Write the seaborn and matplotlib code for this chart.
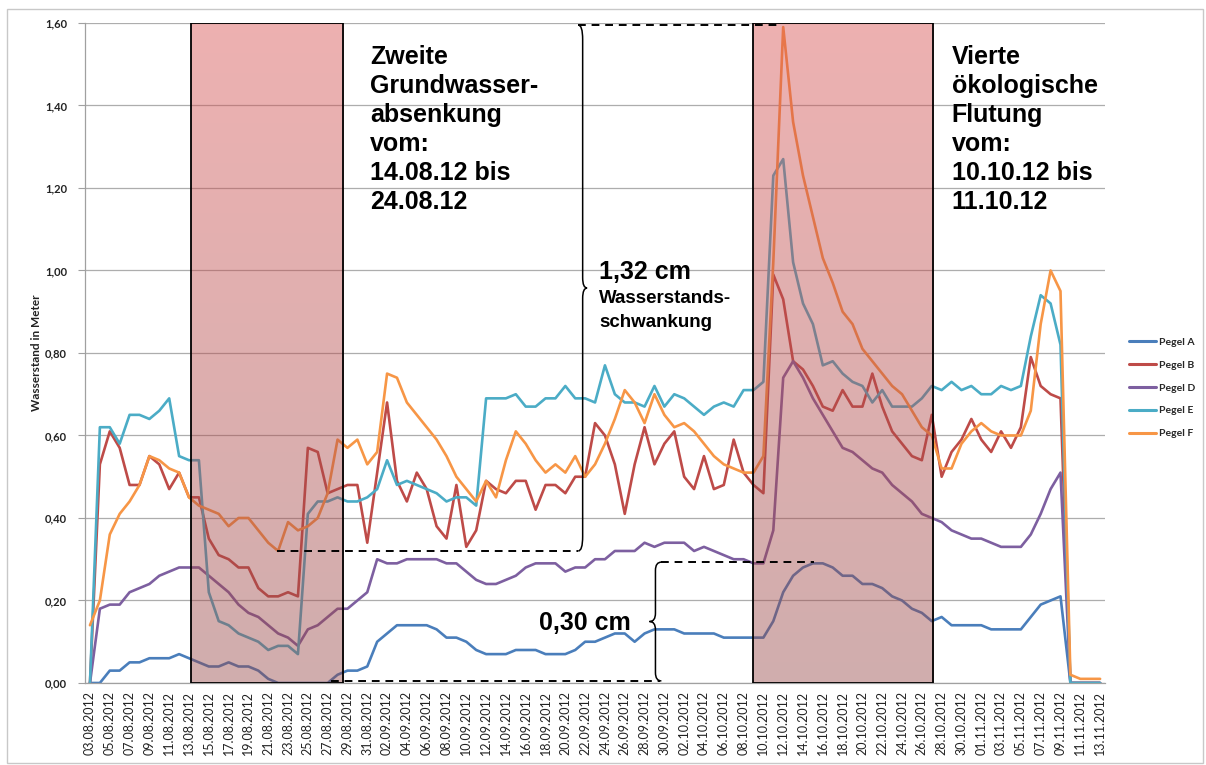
import numpy as np
import pandas as pd
import matplotlib
matplotlib.use('Agg')
import matplotlib.pyplot as plt
import seaborn as sns
from matplotlib.path import Path
from matplotlib.patches import PathPatch, Rectangle
from matplotlib.ticker import FuncFormatter

# Tage 03.08.2012 bis 13.11.2012 (Kategorienachse)
dates = pd.date_range('2012-08-03', '2012-11-13', freq='D').strftime('%d.%m.%Y').tolist()

pegel_a = [0.00, 0.00, 0.03, 0.03, 0.05, 0.05, 0.06, 0.06, 0.06, 0.07,
           0.06, 0.05, 0.04, 0.04, 0.05, 0.04, 0.04, 0.03, 0.01, 0.00,
           0.00, 0.00, 0.00, 0.00, 0.00, 0.02, 0.03, 0.03, 0.04, 0.10,
           0.12, 0.14, 0.14, 0.14, 0.14, 0.13, 0.11, 0.11, 0.10, 0.08,
           0.07, 0.07, 0.07, 0.08, 0.08, 0.08, 0.07, 0.07, 0.07, 0.08,
           0.10, 0.10, 0.11, 0.12, 0.12, 0.10, 0.12, 0.13, 0.13, 0.13,
           0.12, 0.12, 0.12, 0.12, 0.11, 0.11, 0.11, 0.11, 0.11, 0.15,
           0.22, 0.26, 0.28, 0.29, 0.29, 0.28, 0.26, 0.26, 0.24, 0.24,
           0.23, 0.21, 0.20, 0.18, 0.17, 0.15, 0.16, 0.14, 0.14, 0.14,
           0.14, 0.13, 0.13, 0.13, 0.13, 0.16, 0.19, 0.20, 0.21, 0.00,
           0.00, 0.00, 0.00]
pegel_b = [0.00, 0.53, 0.61, 0.57, 0.48, 0.48, 0.55, 0.53, 0.47, 0.51,
           0.45, 0.45, 0.35, 0.31, 0.30, 0.28, 0.28, 0.23, 0.21, 0.21,
           0.22, 0.21, 0.57, 0.56, 0.46, 0.47, 0.48, 0.48, 0.34, 0.51,
           0.68, 0.49, 0.44, 0.51, 0.47, 0.38, 0.35, 0.48, 0.33, 0.37,
           0.49, 0.47, 0.46, 0.49, 0.49, 0.42, 0.48, 0.48, 0.46, 0.50,
           0.50, 0.63, 0.60, 0.53, 0.41, 0.53, 0.62, 0.53, 0.58, 0.61,
           0.50, 0.47, 0.55, 0.47, 0.48, 0.59, 0.51, 0.48, 0.46, 0.99,
           0.93, 0.78, 0.76, 0.72, 0.67, 0.66, 0.71, 0.67, 0.67, 0.75,
           0.67, 0.61, 0.58, 0.55, 0.54, 0.65, 0.50, 0.56, 0.59, 0.64,
           0.59, 0.56, 0.61, 0.57, 0.62, 0.79, 0.72, 0.70, 0.69, 0.00,
           0.00, 0.00, 0.00]
pegel_d = [0.00, 0.18, 0.19, 0.19, 0.22, 0.23, 0.24, 0.26, 0.27, 0.28,
           0.28, 0.28, 0.26, 0.24, 0.22, 0.19, 0.17, 0.16, 0.14, 0.12,
           0.11, 0.09, 0.13, 0.14, 0.16, 0.18, 0.18, 0.20, 0.22, 0.30,
           0.29, 0.29, 0.30, 0.30, 0.30, 0.30, 0.29, 0.29, 0.27, 0.25,
           0.24, 0.24, 0.25, 0.26, 0.28, 0.29, 0.29, 0.29, 0.27, 0.28,
           0.28, 0.30, 0.30, 0.32, 0.32, 0.32, 0.34, 0.33, 0.34, 0.34,
           0.34, 0.32, 0.33, 0.32, 0.31, 0.30, 0.30, 0.29, 0.29, 0.37,
           0.74, 0.78, 0.74, 0.69, 0.65, 0.61, 0.57, 0.56, 0.54, 0.52,
           0.51, 0.48, 0.46, 0.44, 0.41, 0.40, 0.39, 0.37, 0.36, 0.35,
           0.35, 0.34, 0.33, 0.33, 0.33, 0.36, 0.41, 0.47, 0.51, 0.00,
           0.00, 0.00, 0.00]
pegel_e = [0.00, 0.62, 0.62, 0.58, 0.65, 0.65, 0.64, 0.66, 0.69, 0.55,
           0.54, 0.54, 0.22, 0.15, 0.14, 0.12, 0.11, 0.10, 0.08, 0.09,
           0.09, 0.07, 0.41, 0.44, 0.44, 0.45, 0.44, 0.44, 0.45, 0.47,
           0.54, 0.48, 0.49, 0.48, 0.47, 0.46, 0.44, 0.45, 0.45, 0.43,
           0.69, 0.69, 0.69, 0.70, 0.67, 0.67, 0.69, 0.69, 0.72, 0.69,
           0.69, 0.68, 0.77, 0.70, 0.68, 0.68, 0.67, 0.72, 0.67, 0.70,
           0.69, 0.67, 0.65, 0.67, 0.68, 0.67, 0.71, 0.71, 0.73, 1.23,
           1.27, 1.02, 0.92, 0.87, 0.77, 0.78, 0.75, 0.73, 0.72, 0.68,
           0.71, 0.67, 0.67, 0.67, 0.69, 0.72, 0.71, 0.73, 0.71, 0.72,
           0.70, 0.70, 0.72, 0.71, 0.72, 0.84, 0.94, 0.92, 0.82, 0.00,
           0.00, 0.00, 0.00]
pegel_f = [0.14, 0.20, 0.36, 0.41, 0.44, 0.48, 0.55, 0.54, 0.52, 0.51,
           0.45, 0.43, 0.42, 0.41, 0.38, 0.40, 0.40, 0.37, 0.34, 0.32,
           0.39, 0.37, 0.38, 0.40, 0.46, 0.59, 0.57, 0.59, 0.53, 0.56,
           0.75, 0.74, 0.68, 0.65, 0.62, 0.59, 0.55, 0.50, 0.47, 0.44,
           0.49, 0.45, 0.54, 0.61, 0.58, 0.54, 0.51, 0.53, 0.51, 0.55,
           0.50, 0.53, 0.58, 0.64, 0.71, 0.68, 0.63, 0.70, 0.65, 0.62,
           0.63, 0.61, 0.58, 0.55, 0.53, 0.52, 0.51, 0.51, 0.55, 1.02,
           1.59, 1.36, 1.23, 1.13, 1.03, 0.97, 0.90, 0.87, 0.81, 0.78,
           0.75, 0.72, 0.70, 0.66, 0.62, 0.60, 0.52, 0.52, 0.58, 0.61,
           0.63, 0.61, 0.60, 0.60, 0.60, 0.66, 0.87, 1.00, 0.95, 0.02,
           0.01, 0.01, 0.01]

farben = {'Pegel A': '#4A7EBB', 'Pegel B': '#BE4B48', 'Pegel D': '#7D5FA0',
          'Pegel E': '#4BACC6', 'Pegel F': '#F79646'}

df = pd.DataFrame({'Tag': range(len(dates)), 'Pegel A': pegel_a, 'Pegel B': pegel_b,
                   'Pegel D': pegel_d, 'Pegel E': pegel_e, 'Pegel F': pegel_f})
df = df.melt(id_vars='Tag', var_name='Pegel', value_name='Wasserstand')

sns.set_theme(style='white')
plt.rcParams['font.family'] = ['Lato', 'DejaVu Sans']

fig = plt.figure(figsize=(12.06, 7.65), dpi=100)
ax = fig.add_axes([0.0705, 0.1072, 0.8458, 0.8628])

sns.lineplot(data=df, x='Tag', y='Wasserstand', hue='Pegel', palette=farben,
             linewidth=1.9, ax=ax, zorder=2)

# Zeiträume (Absenkung / Flutung)
zeitraeume = [(10.2, 25.6), (66.9, 85.1)]
grad = np.zeros((256, 1, 4))
oben = np.array([216, 80, 80]) / 255
unten = np.array([150, 72, 72]) / 255
t = np.linspace(0, 1, 256)[:, None]
grad[:, 0, :3] = oben * (1 - t) + unten * t
grad[:, 0, 3] = 0.45
for x0, x1 in zeitraeume:
    ax.imshow(grad, extent=(x0, x1, 0, 1.6), aspect='auto', origin='upper',
              zorder=3, interpolation='bilinear')
    ax.add_patch(Rectangle((x0, 0), x1 - x0, 1.6, fill=False, ec='black',
                           lw=1.3, zorder=4))

ax.set_xlim(-0.5, len(dates) - 0.5)
ax.set_ylim(0, 1.6)
ax.set_aspect('auto')

# gestrichelte Hilfslinien
dash = dict(color='black', lw=1.4, ls=(0, (4, 3)), zorder=5)
ax.plot([49.3, 69.8], [1.595, 1.595], **dash)
ax.plot([18.9, 49.3], [0.32, 0.32], **dash)
ax.plot([57.7, 73.1], [0.293, 0.293], **dash)
ax.plot([24.3, 57.6], [0.005, 0.005], **dash)


def klammer(x, y0, y1, w, r=0.035, rt=0.025):
    xm = x + w / 2
    ym = (y0 + y1) / 2
    verts = [(x, y0), (xm, y0), (xm, y0 + r), (xm, ym - rt), (xm, ym), (x + w, ym),
             (xm, ym), (xm, ym + rt), (xm, y1 - r), (xm, y1), (x, y1)]
    codes = [Path.MOVETO, Path.CURVE3, Path.CURVE3, Path.LINETO, Path.CURVE3, Path.CURVE3,
             Path.CURVE3, Path.CURVE3, Path.LINETO, Path.CURVE3, Path.CURVE3]
    ax.add_patch(PathPatch(Path(verts, codes), fill=False, ec='black', lw=1.1, zorder=5))


klammer(49.3, 0.32, 1.595, 0.9)
klammer(57.7, 0.005, 0.293, -1.2, r=0.02, rt=0.02)

txt = dict(family=['Liberation Sans', 'DejaVu Sans'], weight='bold', color='black', zorder=6)
ax.text(28.3, 1.547, 'Zweite\nGrundwasser-\nabsenkung\nvom:\n14.08.12 bis\n24.08.12',
        fontsize=18, va='top', ha='left', linespacing=1.27, **txt)
ax.text(87.0, 1.547, 'Vierte\nökologische\nFlutung\nvom:\n10.10.12 bis\n11.10.12',
        fontsize=18, va='top', ha='left', linespacing=1.27, **txt)
ax.text(51.4, 0.979, '1,32 cm', fontsize=18, va='baseline', ha='left', **txt)
ax.text(51.4, 0.921, 'Wasserstands-', fontsize=13.5, va='baseline', ha='left', **txt)
ax.text(51.4, 0.863, 'schwankung', fontsize=13.5, va='baseline', ha='left', **txt)
ax.text(45.3, 0.128, '0,30 cm', fontsize=18, va='baseline', ha='left', **txt)

# Achsen
ax.set_yticks(np.arange(0, 1.61, 0.2))
ax.yaxis.set_major_formatter(FuncFormatter(lambda v, p: f'{v:.2f}'.replace('.', ',')))
ax.set_xticks(range(0, len(dates), 2))
ax.set_xticklabels(dates[::2], rotation=90, fontsize=9, color='#222222')
ax.tick_params(axis='x', length=0, pad=6)
ax.tick_params(axis='y', length=5, width=0.8, color='#A0A0A0', pad=8, labelsize=8,
               labelcolor='#222222', left=True)
for lab in ax.get_yticklabels():
    lab.set_fontweight('bold')
ax.yaxis.grid(True, color='#ADADAD', lw=0.9, zorder=0.5)
ax.set_axisbelow(True)
for s in ['top', 'right']:
    ax.spines[s].set_visible(False)
for s in ['left', 'bottom']:
    ax.spines[s].set_color('#A0A0A0')
    ax.spines[s].set_linewidth(0.9)
ax.set_xlabel('')
ax.set_ylabel('Wasserstand in Meter', fontsize=8.5, fontweight='bold', color='#222222',
              labelpad=2)

handles, labels = ax.get_legend_handles_labels()
ax.get_legend().remove()
leg = fig.legend(handles, labels, loc='center left', bbox_to_anchor=(0.928, 0.493),
                 frameon=False, prop=dict(family='Lato', weight='bold', size=7.5),
                 handlelength=2.6, handletextpad=0.3, labelspacing=1.3)
for h in leg.get_lines():
    h.set_linewidth(2.2)

fig.add_artist(Rectangle((0.0058, 0.003), 0.992, 0.985, transform=fig.transFigure,
                         fill=False, ec='#C8C8C8', lw=1))

fig.savefig('out.png', dpi=100)
